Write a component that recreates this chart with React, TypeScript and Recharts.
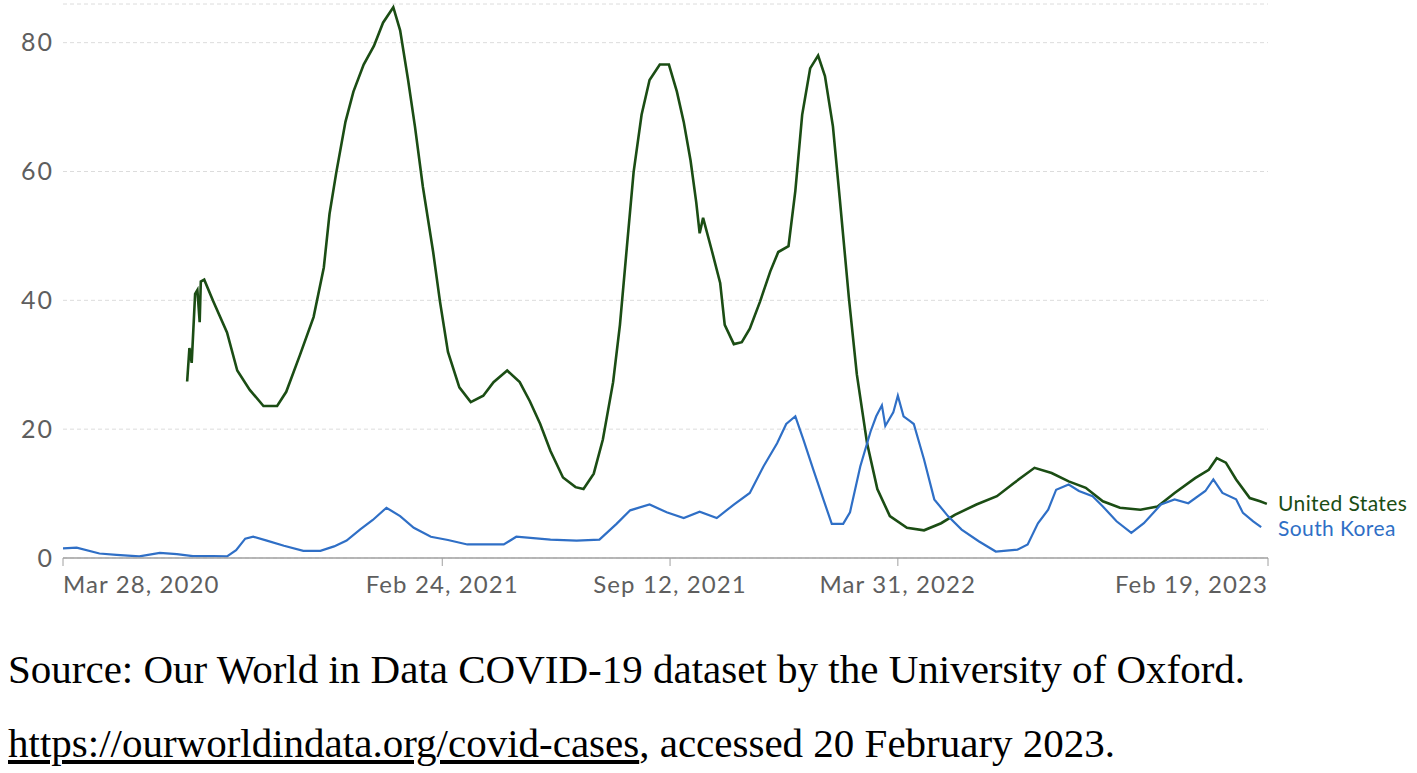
import React from "react";
import { LineChart, Line, XAxis, YAxis, CartesianGrid, ReferenceDot } from "recharts";

// Days since Mar 28, 2020
const tickDays = [0, 333, 533, 733, 1058];
const tickLabels = ["Mar 28, 2020", "Feb 24, 2021", "Sep 12, 2021", "Mar 31, 2022", "Feb 19, 2023"];
const yTicks = [0, 20, 40, 60, 80];

const usDays = [109, 111, 113, 116, 118, 120, 121, 124, 132, 144, 153, 164, 176, 188, 196, 208, 220, 229, 234, 240, 248, 255, 264, 273, 281, 290, 296, 303, 309, 316, 325, 331, 338, 348, 358, 369, 378, 390, 401, 410, 419, 428, 439, 450, 457, 466, 474, 483, 489, 495, 501, 508, 515, 524, 532, 539, 545, 551, 556, 559, 562, 570, 577, 581, 589, 596, 603, 612, 621, 628, 637, 643, 649, 656, 663, 669, 676, 682, 690, 697, 706, 715, 726, 741, 756, 771, 783, 802, 820, 835, 853, 868, 883, 898, 913, 928, 946, 961, 976, 994, 1006, 1013, 1021, 1030, 1042, 1051, 1057];
const usValues = [27.4, 32.6, 30.3, 41.0, 41.6, 36.6, 42.9, 43.2, 39.8, 35.0, 29.1, 26.1, 23.6, 23.6, 25.8, 31.5, 37.4, 45.1, 53.4, 59.9, 67.7, 72.4, 76.6, 79.5, 83.1, 85.5, 81.9, 74.2, 67.0, 57.6, 47.5, 39.8, 32.0, 26.5, 24.2, 25.2, 27.3, 29.1, 27.3, 24.3, 20.8, 16.6, 12.5, 11.0, 10.7, 13.1, 18.4, 27.3, 36.2, 48.1, 59.9, 68.8, 74.2, 76.6, 76.6, 72.4, 67.7, 61.7, 55.2, 50.4, 52.8, 47.5, 42.7, 36.2, 33.2, 33.5, 35.6, 39.8, 44.5, 47.5, 48.4, 57.0, 68.8, 76.0, 78.0, 74.8, 67.0, 55.8, 40.4, 28.5, 17.8, 10.7, 6.5, 4.7, 4.3, 5.4, 6.7, 8.3, 9.6, 11.65, 14.0, 13.2, 11.9, 10.9, 8.8, 7.8, 7.5, 8.0, 10.1, 12.4, 13.7, 15.5, 14.8, 12.2, 9.3, 8.8, 8.4];

const krDays = [0, 12, 32, 47, 67, 85, 100, 114, 132, 144, 152, 160, 167, 179, 194, 211, 226, 238, 249, 261, 272, 284, 296, 308, 323, 338, 355, 387, 398, 428, 451, 471, 486, 498, 515, 530, 545, 559, 574, 589, 603, 615, 627, 635, 643, 650, 659, 668, 675, 685, 691, 700, 709, 714, 719, 722, 729, 733, 738, 744, 747, 756, 765, 777, 789, 804, 819, 838, 847, 856, 865, 872, 883, 892, 904, 913, 925, 938, 949, 964, 976, 988, 1003, 1010, 1018, 1030, 1036, 1045, 1052];
const krValues = [1.5, 1.6, 0.7, 0.5, 0.25, 0.8, 0.6, 0.3, 0.3, 0.25, 1.2, 3.0, 3.3, 2.7, 1.9, 1.1, 1.1, 1.8, 2.7, 4.45, 5.9, 7.8, 6.5, 4.7, 3.3, 2.8, 2.1, 2.1, 3.3, 2.85, 2.7, 2.85, 5.3, 7.4, 8.3, 7.1, 6.2, 7.2, 6.2, 8.3, 10.1, 14.2, 17.8, 20.8, 22.0, 18.4, 13.6, 8.9, 5.3, 5.3, 7.1, 14.2, 19.6, 22.0, 23.7, 20.5, 22.6, 25.2, 22.0, 21.2, 20.8, 15.3, 9.1, 6.5, 4.4, 2.6, 1.0, 1.3, 2.1, 5.4, 7.5, 10.6, 11.4, 10.4, 9.6, 8.0, 5.7, 3.9, 5.4, 8.3, 9.1, 8.5, 10.4, 12.2, 10.1, 9.1, 7.0, 5.7, 4.8];

const seriesNames = ["United States", "South Korea"];

const usData = usDays.map((d, i) => ({ day: d, v: usValues[i] }));
const krData = krDays.map((d, i) => ({ day: d, v: krValues[i] }));

const US_COLOR = "#1b4d14";
const KR_COLOR = "#2f6fc6";
const LATO = "Lato, 'Noto Sans', sans-serif";

const XTick = (props: any) => {
  const { x, y, payload, index } = props;
  const anchor = index === 0 ? "start" : index === tickDays.length - 1 ? "end" : "middle";
  const i = tickDays.indexOf(payload.value);
  return (
    <text x={x} y={y} dy={25} textAnchor={anchor} fill="#5e5e5e" fontSize={24} letterSpacing={1.1} fontFamily={LATO}>
      {tickLabels[i]}
    </text>
  );
};

const YTick = (props: any) => {
  const { x, y, payload } = props;
  return (
    <text x={x} y={y} dy={8.5} textAnchor="end" fill="#5e5e5e" fontSize={25} letterSpacing={2} fontFamily={LATO}>
      {payload.value}
    </text>
  );
};

const makeEndLabel = (text: string, color: string, shift: number) => (props: any) => {
  const vb = props.viewBox || {};
  return (
    <text
      x={(vb.x || 0) + 10}
      y={(vb.y || 0) + shift}
      dy={7}
      textAnchor="start"
      fill={color}
      fontSize={21}
      letterSpacing={0.4}
      fontFamily={LATO}
    >
      {text}
    </text>
  );
};

export default function App() {
  return (
    <div style={{ position: "absolute", left: 0, top: 0, width: 1417, height: 773, background: "#fff" }}>
      <LineChart width={1417} height={620} margin={{ top: 4, right: 149, left: 8, bottom: 22 }}>
        <CartesianGrid horizontal vertical={false} stroke="#dcdcdc" strokeDasharray="4 3" />
        <XAxis
          type="number"
          dataKey="day"
          domain={[0, 1058]}
          ticks={tickDays}
          tick={<XTick />}
          tickSize={8}
          tickLine={{ stroke: "#a0a0a0" }}
          axisLine={{ stroke: "#a0a0a0", strokeWidth: 1.5 }}
          height={40}
          interval={0}
        />
        <YAxis
          type="number"
          domain={[0, 86]}
          ticks={yTicks}
          axisLine={false}
          tickLine={false}
          tickSize={0}
          tickMargin={9}
          width={55}
          tick={<YTick />}
        />
        <Line data={usData} dataKey="v" type="linear" stroke={US_COLOR} strokeWidth={2.6} dot={false} isAnimationActive={false} />
        <Line data={krData} dataKey="v" type="linear" stroke={KR_COLOR} strokeWidth={2.2} dot={false} isAnimationActive={false} />
        <ReferenceDot
          x={1058}
          y={usValues[usValues.length - 1]}
          r={0}
          stroke="none"
          fill="none"
          label={makeEndLabel(seriesNames[0], US_COLOR, 0)}
        />
        <ReferenceDot
          x={1058}
          y={krValues[krValues.length - 1]}
          r={0}
          stroke="none"
          fill="none"
          label={makeEndLabel(seriesNames[1], KR_COLOR, 1.5)}
        />
      </LineChart>
      <div
        style={{
          position: "absolute",
          left: 8,
          top: 649,
          fontFamily: "'Liberation Serif', 'Times New Roman', serif",
          fontSize: 41,
          lineHeight: "41px",
          whiteSpace: "nowrap",
          color: "#000",
        }}
      >
        Source: Our World in Data COVID-19 dataset by the University of Oxford.
      </div>
      <div
        style={{
          position: "absolute",
          left: 8,
          top: 723,
          fontFamily: "'Liberation Serif', 'Times New Roman', serif",
          fontSize: 41,
          lineHeight: "41px",
          whiteSpace: "nowrap",
          color: "#000",
        }}
      >
        <span style={{ textDecoration: "underline" }}>https://ourworldindata.org/covid-cases</span>, accessed 20 February 2023.
      </div>
    </div>
  );
}
